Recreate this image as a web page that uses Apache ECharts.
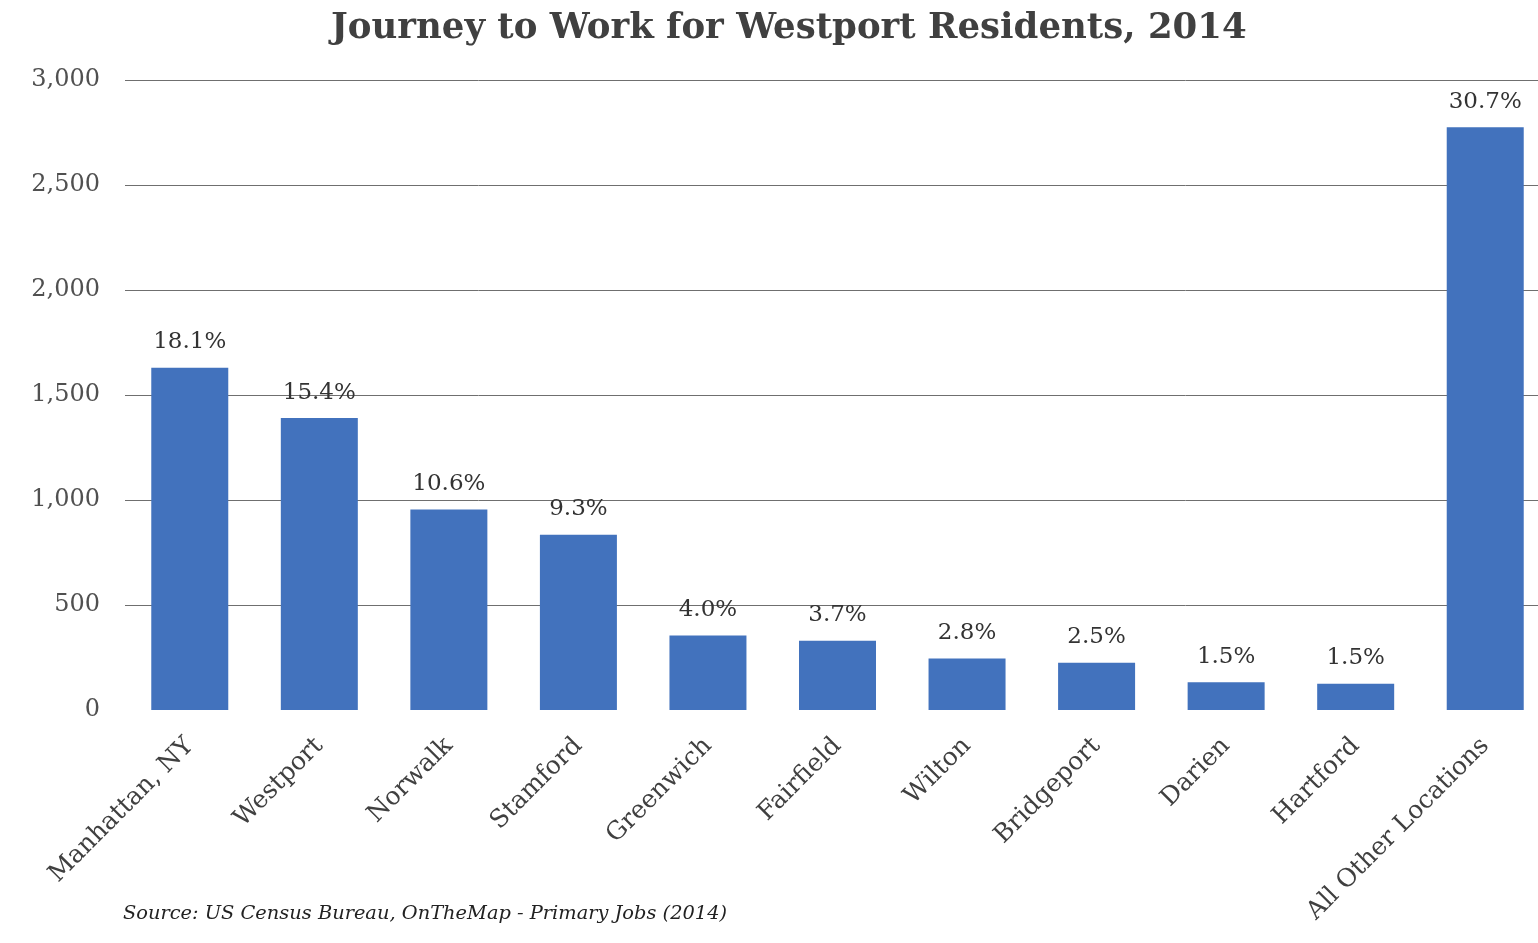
<!DOCTYPE html>
<html>
<head>
<meta charset="utf-8">
<title>Journey to Work for Westport Residents, 2014</title>
<script src="https://cdn.jsdelivr.net/npm/echarts@6/dist/echarts.min.js"></script>
<style>
  html, body { margin: 0; padding: 0; background: #fff; }
  #chart { width: 1538px; height: 943px; }
</style>
</head>
<body>
<div id="chart"></div>
<script>
// workplace of Westport residents (primary jobs, 2014)
var places = ["Manhattan, NY", "Westport", "Norwalk", "Stamford", "Greenwich", "Fairfield",
  "Wilton", "Bridgeport", "Darien", "Hartford", "All Other Locations"];
var workers = [1630, 1390, 955, 835, 355, 330, 245, 225, 132, 125, 2775];
var shares = ["18.1%", "15.4%", "10.6%", "9.3%", "4.0%", "3.7%", "2.8%", "2.5%", "1.5%", "1.5%", "30.7%"];

var serif = "'DejaVu Serif', 'Liberation Serif', serif";

var myChart = echarts.init(document.getElementById("chart"));

// no line at 0, gray lines at 500..3000
var gridColors = ["rgba(0,0,0,0)", "#6f6f6f", "#6f6f6f", "#6f6f6f", "#6f6f6f", "#6f6f6f", "#6f6f6f"];

var option = {
  backgroundColor: "#fff",
  title: {
    text: "Journey to Work for Westport Residents, 2014",
    left: 326,
    top: 6,
    textStyle: { fontFamily: serif, fontWeight: "bold", fontSize: 35.5, color: "#404040" }
  },
  graphic: [{
    type: "text",
    left: 123,
    top: 904,
    style: {
      text: "Source: US Census Bureau, OnTheMap - Primary Jobs (2014)",
      font: "italic 19.4px " + serif,
      fill: "#222"
    }
  }],
  // the last bar runs slightly past the right edge of the picture
  grid: { left: 125, width: 1425, top: 80, bottom: 233, outerBoundsMode: "none" },
  xAxis: {
    type: "category",
    data: places,
    axisLine: { show: false },
    axisTick: { show: false },
    axisLabel: {
      rotate: 45,
      margin: 32,
      interval: 0,
      fontFamily: serif,
      fontSize: 25,
      color: "#404040"
    }
  },
  yAxis: {
    type: "value",
    min: 0,
    max: 3000,
    interval: 500,
    axisLine: { show: false },
    axisTick: { show: false },
    axisLabel: {
      margin: 25,
      padding: [7, 0, 0, 0],
      fontFamily: serif,
      fontSize: 24,
      color: "#505050",
      formatter: function (v) { return v.toLocaleString("en-US"); }
    },
    splitLine: { lineStyle: { color: gridColors, width: 1 } }
  },
  series: [{
    type: "bar",
    data: workers,
    barWidth: 77,
    itemStyle: { color: "#4272bd" },
    label: {
      show: true,
      position: "top",
      distance: 14,
      fontFamily: serif,
      fontSize: 23,
      color: "#333",
      formatter: function (p) { return shares[p.dataIndex]; }
    }
  }]
};

myChart.setOption(option);
</script>
</body>
</html>
